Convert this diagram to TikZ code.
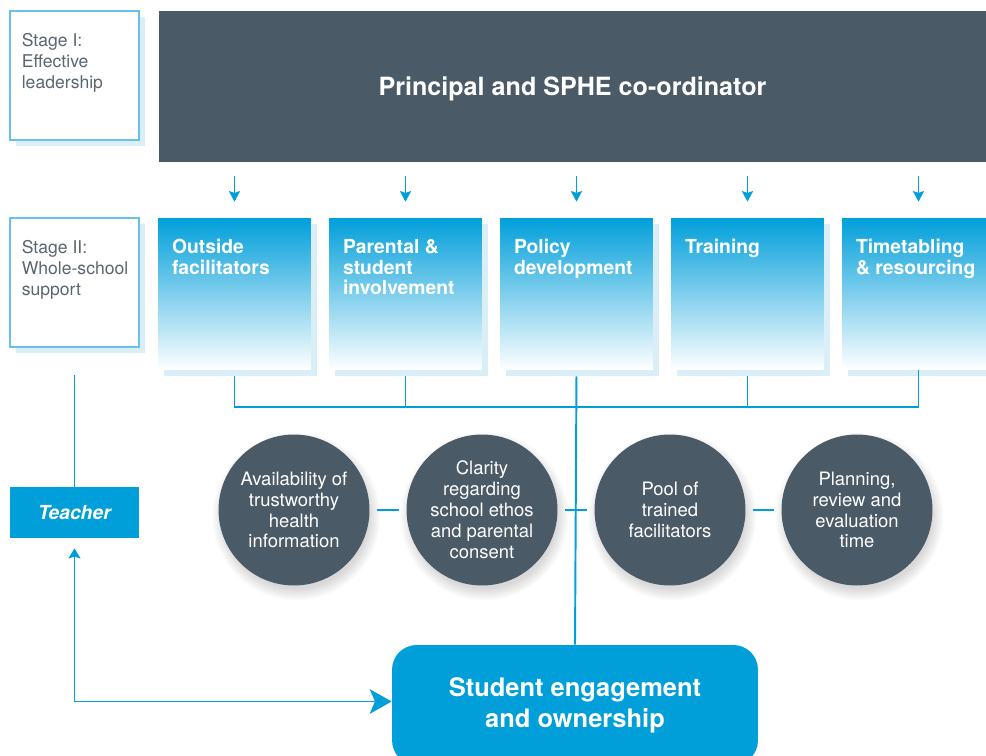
\documentclass[tikz,border=0pt]{standalone}
\usepackage{fontspec}
\setmainfont{TeX Gyre Heros}
\usetikzlibrary{arrows.meta,shadows,calc}
\definecolor{cslate}{RGB}{74,90,103}
\definecolor{cblue}{RGB}{0,159,218}
\definecolor{cshade}{RGB}{217,238,247}
\definecolor{cframe}{RGB}{104,193,232}
\definecolor{cgrey}{RGB}{91,103,112}

\begin{document}
\begin{tikzpicture}[x=0.02cm,y=-0.02cm,
  stagebox/.style={draw=cframe,line width=0.6pt,fill=white,minimum width=2.58cm,minimum height=2.58cm,
    general shadow={fill=cshade,shadow xshift=3.4pt,shadow yshift=-3.4pt}},
  stagetext/.style={anchor=north west,inner sep=0,align=left,text=cgrey,font=\fontsize{10}{11.9}\selectfont},
  bluebox/.style={top color=cblue,bottom color=white,minimum width=3.06cm,minimum height=3.04cm,inner sep=0,
    general shadow={fill=cshade,shadow xshift=3.4pt,shadow yshift=-3.4pt}},
  bluetext/.style={anchor=north west,inner sep=0,align=left,text=white,font=\bfseries\fontsize{11}{11.9}\selectfont},
  bubble/.style={circle,fill=cslate,minimum size=3.02cm,inner sep=0,align=center,text=white,
    font=\fontsize{10.5}{11.9}\selectfont,
    circular drop shadow={shadow xshift=1pt,shadow yshift=-3pt,shadow scale=1.12,opacity=0.3}},
  link/.style={draw=cblue,line width=1.1pt},
  downarrow/.style={link,-{Stealth[length=6pt,width=6.3pt,inset=1pt]}}]

\clip (0,0) rectangle (986,756);

% stage frames
\node[stagebox] (stage1) at (74.5,75.5) {};
\node[stagebox] (stage2) at (74.5,282.5) {};
\node[stagetext] (stage1-t) at ($(stage1.north west)+(12,23)$) {Stage I:\\Effective\\leadership};
\node[stagetext] (stage2-t) at ($(stage2.north west)+(12,23)$) {Stage II:\\Whole-school\\support};

% leadership bar
\node[fill=cslate,minimum width=16.54cm,minimum height=3.02cm,text=white,text depth=0pt,
  font=\bfseries\fontsize{14.3}{17}\selectfont] (lead) at (572.5,86.5) {Principal and SPHE co-ordinator};

% blue squares
\node[bluebox] (out) at (234.5,294) {};
\node[bluebox] (par) at (234.5+171,294) {};
\node[bluebox] (pol) at (234.5+2*171,294) {};
\node[bluebox] (tra) at (234.5+3*171,294) {};
\node[bluebox] (tim) at (234.5+4*171,294) {};
\node[bluetext] (out-t) at ($(out.north west)+(14,21)$) {Outside\\facilitators};
\node[bluetext] (par-t) at ($(par.north west)+(14,21)$) {Parental \&\\student\\involvement};
\node[bluetext] (pol-t) at ($(pol.north west)+(14,21)$) {Policy\\development};
\node[bluetext] (tra-t) at ($(tra.north west)+(14,21)$) {Training};
\node[bluetext] (tim-t) at ($(tim.north west)+(14,21)$) {Timetabling\\\& resourcing};

% arrows from the top
\foreach \b in {out,par,pol,tra,tim}
  \draw[downarrow,shorten <=7.9pt,shorten >=9.1pt] (lead.south -| \b.north) -- (\b.north);

% bubbles
\node[bubble] (c1) at (294,510) {Availability of\\trustworthy\\health\\information};
\node[bubble] (c2) at (482,510) {Clarity\\regarding\\school ethos\\and parental\\consent};
\node[bubble] (c3) at (670,510) {Pool of\\trained\\facilitators};
\node[bubble] (c4) at (857,510) {Planning,\\review and\\evaluation\\time};

% teacher and students
\node[fill=cblue,minimum width=2.58cm,minimum height=1.02cm,text=white,
  font=\bfseries\itshape\fontsize{11}{13}\selectfont] (teacher) at (74.5,512.5) {Teacher};
\node[fill=cblue,rounded corners=14pt,minimum width=7.32cm,minimum height=2.4cm,text=white,align=center,
  font=\bfseries\fontsize{14.5}{17.6}\selectfont] (student) at (575,705) {Student engagement\\and ownership};

% lines
\coordinate (bus) at (0,407);
\draw[link,shorten <=3.4pt] (out.south) -- (out.south |- bus) -- (tim.south |- bus) -- (tim.south);
\draw[link,shorten <=3.4pt] (par.south) -- (par.south |- bus);
\draw[link,shorten <=3.4pt] (tra.south) -- (tra.south |- bus);
\draw[link,shorten <=3.4pt] (pol.south) -- (student.north);
\draw[link,shorten <=4pt,shorten >=4pt] (c1) -- (c2);
\draw[link,shorten <=4pt,shorten >=4pt] (c2) -- (c3);
\draw[link,shorten <=4pt,shorten >=4pt] (c3) -- (c4);
\draw[link,shorten <=15.9pt] (stage2.south) -- (teacher.north);
\draw[link,{Stealth[length=5.7pt,width=6.8pt,inset=1pt]}-{Stealth[length=12.5pt,width=14pt,inset=3pt]},
  shorten <=5.7pt] (teacher.south) |- ([yshift=2pt]student.west);

\end{tikzpicture}
\end{document}
